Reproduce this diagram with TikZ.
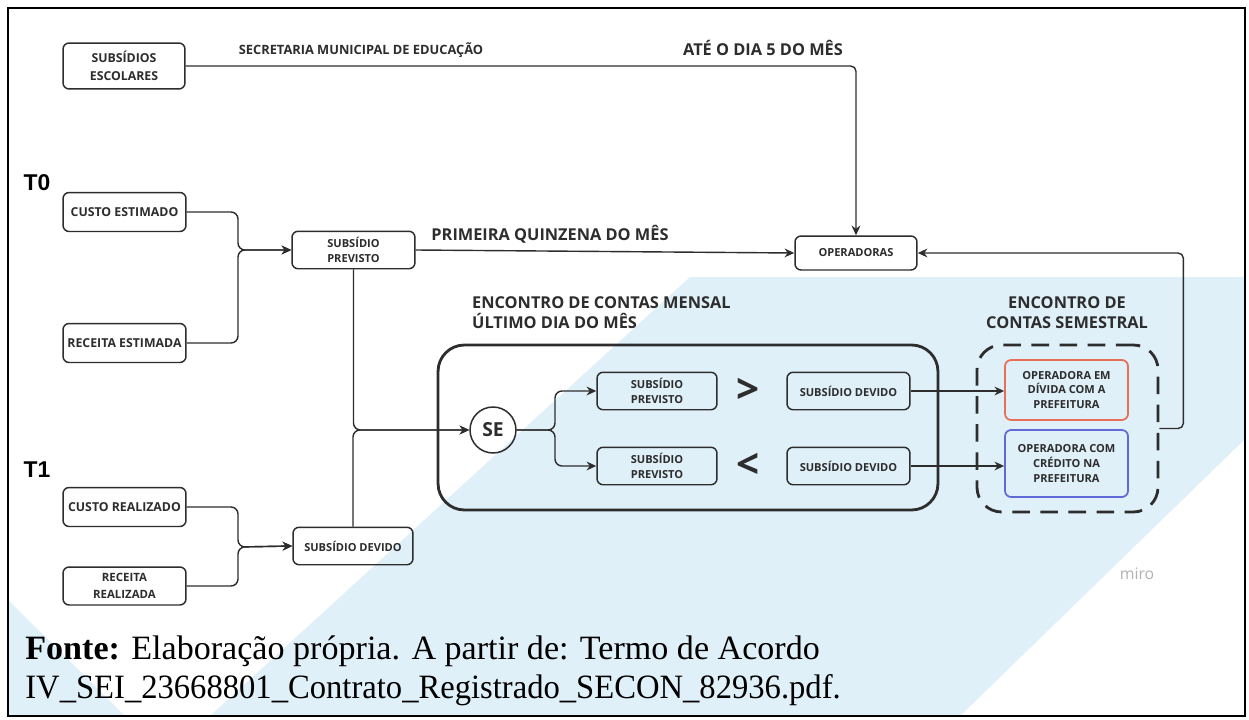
\documentclass[tikz,border=0pt]{standalone}
\usepackage{fontspec}
\usepackage{graphicx}
\setmainfont{Liberation Serif}
\setsansfont{Open Sans}
\newfontfamily\headfont{Liberation Sans}
\usetikzlibrary{arrows.meta,positioning}

\definecolor{linegray}{RGB}{45,45,45}
\definecolor{wmblue}{RGB}{223,240,249}
\definecolor{debtred}{RGB}{232,110,88}
\definecolor{credblue}{RGB}{98,104,214}

\begin{document}
\begin{tikzpicture}[x=0.02cm, y=-0.02cm,
    box/.style={draw=linegray, line width=0.85pt, rounded corners=3.5pt, align=center, inner sep=1pt,
        text=linegray, font=\sffamily\bfseries\fontsize{6.3}{8.5}\selectfont},
    leftbox/.style={box, minimum width=2.46cm, minimum height=0.78cm, font=\sffamily\bfseries\fontsize{7}{10}\selectfont},
    midbox/.style={box, minimum width=2.42cm, minimum height=0.75cm},
    label/.style={text=linegray, font=\sffamily\bfseries\fontsize{9.3}{11.5}\selectfont},
    arrow/.style={draw=linegray, line width=0.8pt, -{Stealth[length=5.5pt, width=5pt]}},
    link/.style={draw=linegray, line width=0.8pt}
]
    % --- fundo e moldura ---
    \useasboundingbox (0,0) rectangle (1249,720);
    \fill[white] (0,0) rectangle (1249,720);
    \fill[wmblue] (210,716) -- (690,277) -- (1244,277) -- (1244,440) -- (960,716) -- cycle;
    \fill[wmblue] (8,600) -- (125,716) -- (8,716) -- cycle;
    \node[text=black!30, font=\sffamily\fontsize{9}{10}\selectfont] (miro) at (1137,574) {miro};

    % --- T0 ---
    \node[font=\headfont\bfseries\fontsize{13}{14}\selectfont] (t0) at (37,183) {T0};
    \node[leftbox] (custoE) at (124.5,212) {CUSTO ESTIMADO};
    \node[leftbox] (receitaE) at (124.5,343) {RECEITA ESTIMADA};
    \node[midbox, minimum width=2.46cm] (prevT) at (353.5,250) {SUBSÍDIO\\PREVISTO};
    \coordinate (mergeE) at (238,250);

    % --- T1 ---
    \node[font=\headfont\bfseries\fontsize{13}{14}\selectfont] (t1) at (37,470) {T1};
    \node[leftbox] (custoR) at (124.5,507) {CUSTO REALIZADO};
    \node[leftbox, minimum height=0.76cm, font=\sffamily\bfseries\fontsize{6.5}{10}\selectfont] (receitaR) at (124.5,586) {RECEITA\\REALIZADA};
    \node[midbox, minimum width=2.4cm] (devidoT) at (353,546) {SUBSÍDIO DEVIDO};
    \coordinate (mergeR) at (238,547);

    % --- topo ---
    \node[box, minimum width=2.44cm, minimum height=0.92cm, font=\sffamily\bfseries\fontsize{7}{10}\selectfont] (escolares) at (124,66) {SUBSÍDIOS\\ESCOLARES};
    \node[midbox, minimum width=2.44cm, minimum height=0.68cm] (operadoras) at (856,253) {OPERADORAS};
    \node[text=linegray, font=\sffamily\bfseries\fontsize{7.3}{9}\selectfont] (secretaria) at (361,50) {SECRETARIA MUNICIPAL DE EDUCAÇÃO};
    \node[label] (ate) at (763,48) {ATÉ O DIA 5 DO MÊS};
    \node[label] (quinzena) at (550,234) {PRIMEIRA QUINZENA DO MÊS};

    % --- encontro de contas mensal ---
    \node[label, align=left, anchor=north west] (mensalTxt) at (466,290) {ENCONTRO DE CONTAS MENSAL\\ÚLTIMO DIA DO MÊS};
    \node[draw=linegray, line width=1.6pt, rounded corners=15pt, minimum width=10cm, minimum height=3.3cm] (mensal) at (688,427.5) {};
    \node[draw=linegray, line width=0.85pt, circle, minimum size=0.92cm, inner sep=0pt, text=linegray,
        font=\sffamily\bfseries\fontsize{11}{12}\selectfont] (se) at (493,430) {SE};
    \node[midbox, minimum width=2.4cm] (prevA) at (657,391) {SUBSÍDIO\\PREVISTO};
    \node[midbox, minimum width=2.4cm] (prevB) at (657,466) {SUBSÍDIO\\PREVISTO};
    \node[midbox, minimum width=2.46cm] (devA) at (848.5,391) {SUBSÍDIO DEVIDO};
    \node[midbox, minimum width=2.46cm] (devB) at (848.5,466) {SUBSÍDIO DEVIDO};
    \node[text=linegray, font=\sffamily\bfseries\fontsize{23}{23}\selectfont] (maior) at (748,391) {>};
    \node[text=linegray, font=\sffamily\bfseries\fontsize{23}{23}\selectfont] (menor) at (748,466) {<};
    \coordinate (seFork) at (555,430);

    % --- encontro de contas semestral ---
    \node[label, align=center] (semTxt) at (1067,313) {ENCONTRO DE\\CONTAS SEMESTRAL};
    \node[draw=linegray, line width=1.6pt, dash pattern=on 10pt off 6pt, rounded corners=14pt,
        minimum width=3.62cm, minimum height=3.34cm] (semestral) at (1067.5,428.5) {};
    \node[box, draw=debtred, line width=1pt, minimum width=2.46cm, minimum height=1.2cm] (debt) at (1066.5,390) {OPERADORA EM\\DÍVIDA COM A\\PREFEITURA};
    \node[box, draw=credblue, line width=1pt, minimum width=2.46cm, minimum height=1.34cm] (cred) at (1066.5,463.5) {OPERADORA COM\\CRÉDITO NA\\PREFEITURA};

    % --- ligações ---
    \draw[arrow, rounded corners=3pt] (escolares.east) -| (operadoras.north);
    \draw[arrow, rounded corners=4pt] (custoE.east) -| (mergeE) -- (prevT.west);
    \draw[arrow, rounded corners=4pt] (receitaE.east) -| (mergeE) -- (prevT.west);
    \draw[arrow, rounded corners=4pt] (custoR.east) -| (mergeR) -- (devidoT.west);
    \draw[arrow, rounded corners=4pt] (receitaR.east) -| (mergeR) -- (devidoT.west);
    \draw[arrow] (prevT.east) -- (operadoras.west);
    \draw[arrow, rounded corners=4pt] (prevT.south) |- (se.west);
    \draw[arrow, rounded corners=4pt] (devidoT.north) |- (se.west);
    \draw[arrow, rounded corners=4pt] (se.east) -- (seFork) |- (prevA.west);
    \draw[arrow, rounded corners=4pt] (se.east) -- (seFork) |- (prevB.west);
    \draw[arrow] (devA.east) -- (devA.east -| debt.west);
    \draw[arrow] (devB.east) -- (devB.east -| cred.west);
    \draw[arrow, rounded corners=3pt] (semestral.east) -- ++(24,0) |- (operadoras.east);

    % --- fonte ---
    \node[anchor=base west, inner sep=0pt, font=\fontsize{19.4}{20}\selectfont] (fonte) at (25,659) {\textbf{Fonte:} Elaboração própria. A partir de: Termo de Acordo};
    \node[anchor=base west, inner sep=0pt, font=\fontsize{19.4}{20}\selectfont] (arquivo) at (25,698) {\scalebox{0.957}[1]{IV\_SEI\_23668801\_Contrato\_Registrado\_SECON\_82936.pdf.}};

    \draw[line width=1.3pt] (8,8) rectangle (1245,716);
\end{tikzpicture}
\end{document}
